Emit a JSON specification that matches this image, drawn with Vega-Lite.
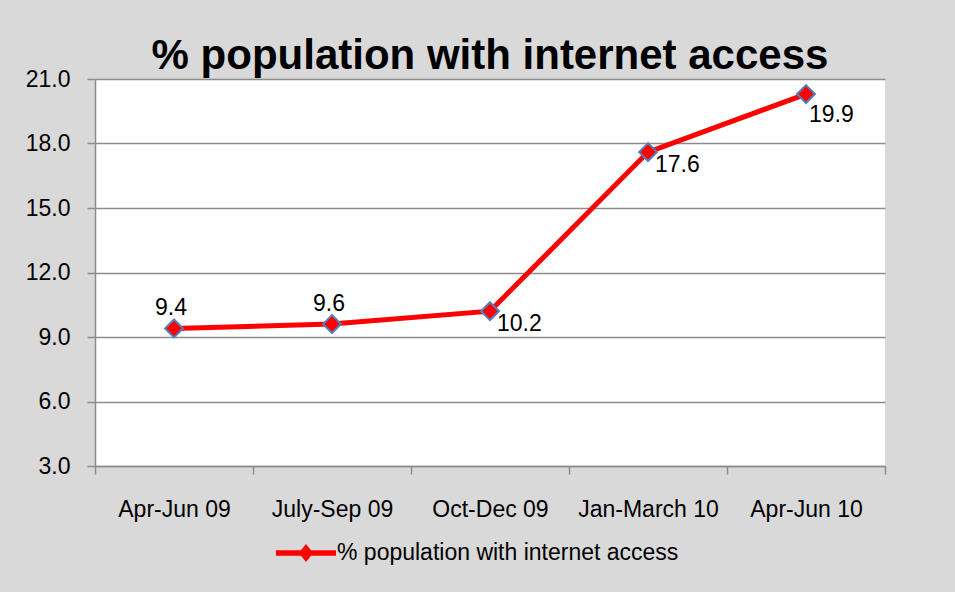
{
  "$schema": "https://vega.github.io/schema/vega-lite/v6.json",
  "width": 790,
  "height": 387,
  "autosize": {"type": "none"},
  "padding": {"left": 95, "top": 79, "right": 70, "bottom": 126},
  "background": "#D9D9D9",
  "config": {
    "view": {"fill": "white", "stroke": null},
    "font": "Liberation Sans",
    "text": {"font": "Liberation Sans"}
  },
  "title": {
    "text": "% population with internet access",
    "font": "Liberation Sans",
    "fontSize": 42,
    "fontWeight": "bold",
    "color": "black",
    "anchor": "middle",
    "baseline": "bottom",
    "offset": 4,
    "dy": 56
  },
  "data": {
    "values": [
      {"quarter": "Apr-Jun 09", "value": 9.4, "label": "9.4", "pos": "above"},
      {"quarter": "July-Sep 09", "value": 9.6, "label": "9.6", "pos": "above"},
      {"quarter": "Oct-Dec 09", "value": 10.2, "label": "10.2", "pos": "right"},
      {"quarter": "Jan-March 10", "value": 17.6, "label": "17.6", "pos": "right"},
      {"quarter": "Apr-Jun 10", "value": 20.3, "label": "19.9", "pos": "below"}
    ]
  },
  "encoding": {
    "x": {
      "field": "quarter",
      "type": "nominal",
      "sort": null,
      "scale": {"type": "band", "paddingInner": 0, "paddingOuter": 0},
      "axis": {
        "title": null,
        "labelAngle": 0,
        "tickBand": "extent",
        "grid": false,
        "domainColor": "#8c8c8c",
        "domainWidth": 1.5,
        "tickColor": "#8c8c8c",
        "tickWidth": 1.5,
        "tickSize": 8,
        "labelFontSize": 23,
        "labelFont": "Liberation Sans",
        "labelColor": "black",
        "labelPadding": 24,
        "labelLimit": 0
      }
    },
    "y": {
      "field": "value",
      "type": "quantitative",
      "scale": {"domain": [3, 21], "nice": false, "zero": false},
      "axis": {
        "title": null,
        "values": [3, 6, 9, 12, 15, 18, 21],
        "format": ".1f",
        "grid": true,
        "gridColor": "#8c8c8c",
        "gridWidth": 1.5,
        "domainColor": "#8c8c8c",
        "domainWidth": 1.5,
        "tickColor": "#8c8c8c",
        "tickWidth": 1.5,
        "tickSize": 8,
        "labelFontSize": 23,
        "labelFont": "Liberation Sans",
        "labelColor": "black",
        "labelPadding": 17
      }
    }
  },
  "layer": [
    {
      "mark": {"type": "line", "color": "#FF0000", "strokeWidth": 5}
    },
    {
      "mark": {"type": "point", "shape": "diamond", "filled": true, "size": 320, "stroke": "#4F81BD", "strokeWidth": 2, "opacity": 1},
      "encoding": {
        "color": {
          "datum": "% population with internet access",
          "scale": {"range": ["#FF0000"]},
          "legend": {
            "title": null,
            "orient": "none",
            "legendX": 181,
            "legendY": 444,
            "direction": "horizontal",
            "symbolType": "M-1,-0.09H1V0.09H-1Z M-0.24,0L0,-0.3L0.24,0L0,0.3Z",
            "symbolSize": 3600,
            "symbolFillColor": "#FF0000",
            "symbolStrokeWidth": 0,
            "labelFontSize": 23,
            "labelFont": "Liberation Sans",
            "labelColor": "black",
            "labelOffset": 1,
            "labelLimit": 0,
            "padding": 0
          }
        }
      }
    },
    {
      "transform": [{"filter": "datum.pos === 'above'"}],
      "mark": {"type": "text", "align": "center", "baseline": "alphabetic", "dy": -13, "dx": -3, "fontSize": 23, "color": "black"},
      "encoding": {"text": {"field": "label"}}
    },
    {
      "transform": [{"filter": "datum.pos === 'right'"}],
      "mark": {"type": "text", "align": "left", "baseline": "top", "dx": 7, "dy": 2, "fontSize": 23, "color": "black"},
      "encoding": {"text": {"field": "label"}}
    },
    {
      "transform": [{"filter": "datum.pos === 'below'"}],
      "mark": {"type": "text", "align": "left", "baseline": "top", "dx": 3, "dy": 10, "fontSize": 23, "color": "black"},
      "encoding": {"text": {"field": "label"}}
    }
  ]
}
